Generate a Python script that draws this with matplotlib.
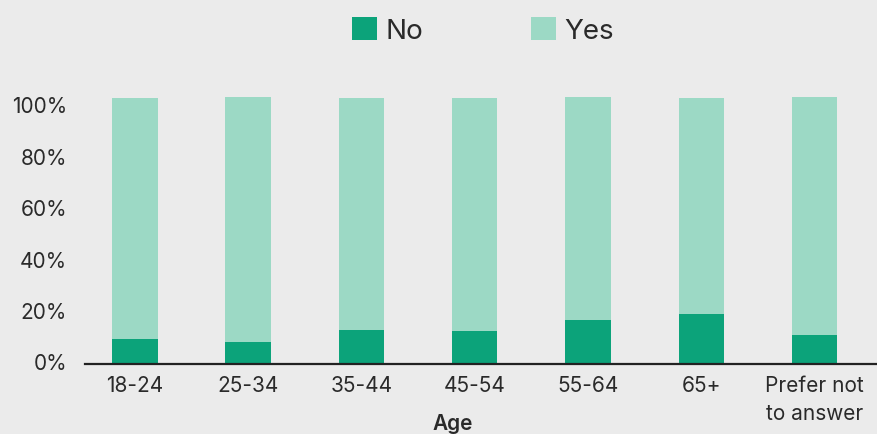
import matplotlib
matplotlib.use("Agg")
import matplotlib.pyplot as plt
import matplotlib.transforms as mtransforms

categories = ["18-24", "25-34", "35-44", "45-54", "55-64", "65+", "Prefer not\nto answer"]
no_vals = [9.7, 8.6, 13.2, 12.8, 17.1, 19.5, 11.3]
yes_vals = [93.8, 95.3, 90.3, 90.7, 86.8, 84.0, 92.6]
yticks = [0, 20, 40, 60, 80, 100]
ytick_labels = ["0%", "20%", "40%", "60%", "80%", "100%"]

BG = "#ebebeb"
C_NO = "#0ca37a"
C_YES = "#9cd9c5"
TXT = "#2a2a2a"

plt.rcParams["font.family"] = ["Inter", "DejaVu Sans"]

fig = plt.figure(figsize=(8.78, 4.35), dpi=100, facecolor=BG)
ax = fig.add_axes([85 / 878, 70 / 435, 793 / 878, 275 / 435], facecolor=BG)

x = list(range(len(categories)))
b1 = ax.bar(x, no_vals, width=0.4, color=C_NO, label="No")
b2 = ax.bar(x, yes_vals, width=0.4, bottom=no_vals, color=C_YES, label="Yes")

ax.set_xlim(-0.44, 6.56)
ax.set_ylim(0, 107)
ax.set_yticks(yticks)
ax.set_yticklabels(ytick_labels)
ax.set_xticks(x)
ax.set_xticklabels(categories)

for s in ["top", "right", "left"]:
    ax.spines[s].set_visible(False)
ax.spines["bottom"].set_color("#222222")
ax.spines["bottom"].set_linewidth(1.6)

ax.tick_params(axis="both", length=0, labelsize=15, colors=TXT)
ax.tick_params(axis="y", pad=13)
ax.tick_params(axis="x", pad=8)
offset = mtransforms.ScaledTranslation(0, 2.5 / 100, fig.dpi_scale_trans)
for lab in ax.get_yticklabels():
    lab.set_transform(lab.get_transform() + offset)
    lab.set_color(TXT)
for lab in ax.get_xticklabels():
    lab.set_color(TXT)
    lab.set_linespacing(1.5)

ax.set_xlabel("Age", fontsize=15, color=TXT, fontweight="semibold")
ax.xaxis.set_label_coords(0.464, -0.18)

fig.legend(handles=[b1, b2], labels=["No", "Yes"], loc="upper center",
           bbox_to_anchor=(483 / 878, 1.0), ncol=2, frameon=False,
           fontsize=20, handlelength=0.9, handleheight=0.9,
           handletextpad=0.3, columnspacing=3.9, labelcolor=TXT,
           borderaxespad=0.25)

fig.savefig("out.png", dpi=100, facecolor=BG)
